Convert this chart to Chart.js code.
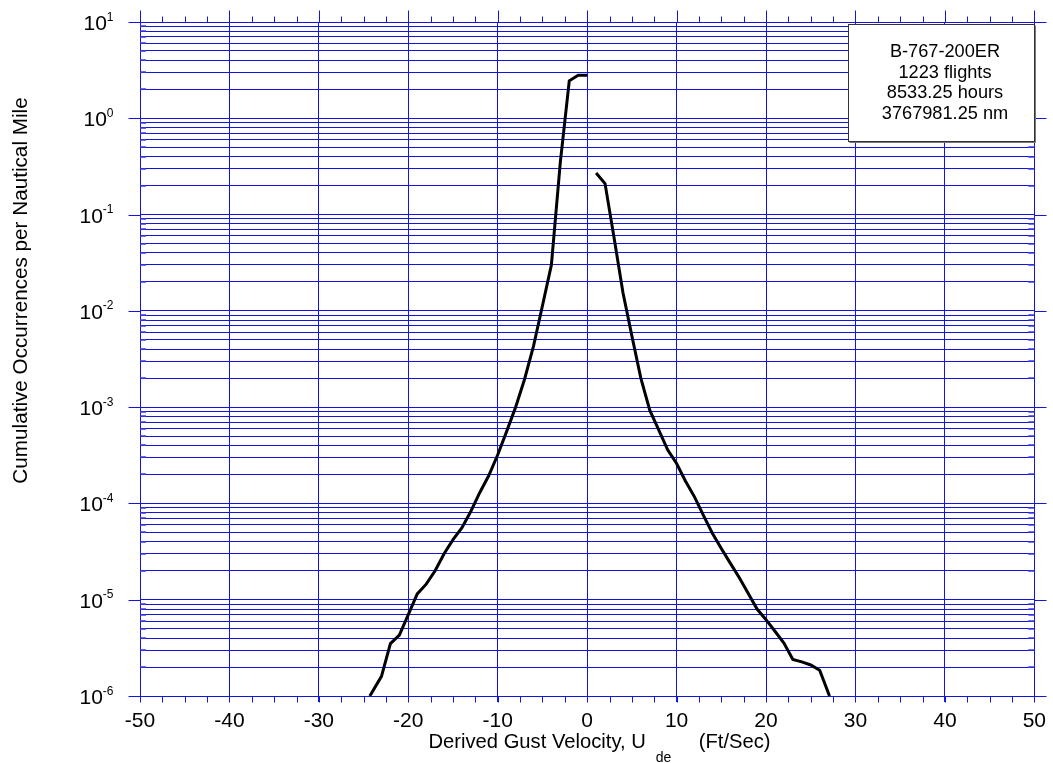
<!DOCTYPE html>
<html><head><meta charset="utf-8">
<script src="https://cdn.jsdelivr.net/npm/chart.js@4.4.1/dist/chart.umd.min.js"></script>
<style>html,body{margin:0;padding:0;background:#fff;overflow:hidden}#wrap{width:1053px;height:763px;position:relative}</style>
</head><body><div id="wrap"><canvas id="c" width="1053" height="763"></canvas></div>
<script>
// ---- data ----
const leftGust = [-24.3,-23,-22,-21,-20,-19,-18,-17,-16,-15,-14,-13,-12,-11,-10,-9,-8,-7,-6,-5,-4,-3,-2,-1,0];
const leftRate = [1.0e-6,1.6e-6,3.5e-6,4.3e-6,7.0e-6,1.15e-5,1.45e-5,2.0e-5,3.0e-5,4.2e-5,5.6e-5,8.3e-5,1.3e-4,1.95e-4,3.2e-4,5.6e-4,1.0e-3,1.95e-3,4.3e-3,1.13e-2,3.0e-2,3.5e-1,2.45,2.8,2.8];
const rightGust = [1,2,3,4,5,6,7,8,9,10,11,12,13,14,15,16,17,18,19,20,21,22,23,24,25,26,27.1];
const rightRate = [0.27,0.21,0.058,0.0155,5.5e-3,2.0e-3,9.3e-4,5.8e-4,3.6e-4,2.6e-4,1.7e-4,1.17e-4,7.5e-5,4.9e-5,3.4e-5,2.4e-5,1.7e-5,1.17e-5,8.0e-6,6.2e-6,4.7e-6,3.55e-6,2.4e-6,2.26e-6,2.1e-6,1.85e-6,1.0e-6];
const xTickValues = [-50,-40,-30,-20,-10,0,10,20,30,40,50];
const xMinorStep = 2.5;
const yDecades = [1e-6,1e-5,1e-4,1e-3,1e-2,1e-1,1e0,1e1];
const yExponents = ['-6','-5','-4','-3','-2','-1','0','1'];
const yMinorMultipliers = [2,3,4,5,6,7,8,9];
const legendLines = ['B-767-200ER','1223 flights','8533.25 hours','3767981.25 nm'];
const xTitleMain = 'Derived Gust Velocity, U';
const xTitleSub = 'de';
const xTitleUnit = '(Ft/Sec)';
const yTitle = 'Cumulative Occurrences per Nautical Mile';

const FONT = '"Liberation Sans", Arial, Helvetica, sans-serif';
const GRID = 'rgb(20,20,225)';

const yGridValues = [];
yDecades.forEach((d, i) => {
  yGridValues.push(d);
  if (i < yDecades.length - 1) yMinorMultipliers.forEach(m => yGridValues.push(d * m));
});

function pts(xs, ys) { return xs.map((x, i) => ({x: x, y: ys[i]})); }

const frame = {
  id: 'frame',
  afterDraw(chart) {
    const ctx = chart.ctx, a = chart.chartArea, xs = chart.scales.x, ys = chart.scales.y;
    const al = v => Math.round(v) + 0.5;
    ctx.save();
    ctx.strokeStyle = GRID; ctx.lineWidth = 1;
    ctx.beginPath();
    ctx.moveTo(al(a.left), al(a.top)); ctx.lineTo(al(a.right), al(a.top));
    ctx.lineTo(al(a.right), al(a.bottom));
    ctx.stroke();
    // x ticks top & bottom
    const xmin = xTickValues[0], xmax = xTickValues[xTickValues.length - 1];
    const nMinor = Math.round((xmax - xmin) / xMinorStep);
    ctx.beginPath();
    for (let k = 0; k <= nMinor; k++) {
      const v = xmin + k * xMinorStep;
      const px = al(xs.getPixelForValue(v));
      const major = xTickValues.includes(v);
      ctx.moveTo(px, al(a.top)); ctx.lineTo(px, al(a.top) - (major ? 12 : 6));
      ctx.moveTo(px, al(a.bottom)); ctx.lineTo(px, al(a.bottom) + 6);
    }
    // y major ticks outward both sides
    yDecades.forEach(d => {
      const py = al(ys.getPixelForValue(d));
      ctx.moveTo(al(a.left) - 12, py); ctx.lineTo(al(a.left), py);
      ctx.moveTo(al(a.right), py); ctx.lineTo(al(a.right) + 12, py);
    });
    ctx.stroke();
    // y minor ticks inward
    ctx.strokeStyle = 'rgba(60,60,230,0.75)'; ctx.lineWidth = 2;
    ctx.beginPath();
    yGridValues.forEach(v => {
      if (yDecades.includes(v)) return;
      const py = Math.round(ys.getPixelForValue(v));
      ctx.moveTo(a.left, py); ctx.lineTo(a.left + 6, py);
      ctx.moveTo(a.right, py); ctx.lineTo(a.right - 6, py);
    });
    ctx.stroke();

    // y tick labels 10^n
    ctx.fillStyle = '#000';
    ctx.textAlign = 'right'; ctx.textBaseline = 'alphabetic';
    yDecades.forEach((d, i) => {
      const py = ys.getPixelForValue(d);
      ctx.font = '12px ' + FONT;
      const ew = ctx.measureText(yExponents[i]).width;
      ctx.fillText(yExponents[i], 113.5, py - 1.5);
      ctx.font = '21px ' + FONT;
      ctx.fillText('10', 113.5 - ew, py + 8);
    });

    // x title
    ctx.textAlign = 'left';
    ctx.font = '20.2px ' + FONT;
    ctx.fillText(xTitleMain, 428.5, 747.7);
    const endMain = 428.5 + ctx.measureText(xTitleMain).width;
    ctx.font = '14px ' + FONT;
    ctx.fillText(xTitleSub, endMain + 10, 762.3);
    ctx.font = '20.2px ' + FONT;
    ctx.fillText(xTitleUnit, endMain + 53, 747.7);

    // y title
    ctx.save();
    ctx.translate(26.5, 290.5);
    ctx.rotate(-Math.PI / 2);
    ctx.textAlign = 'center';
    ctx.font = '20.7px ' + FONT;
    ctx.fillText(yTitle, 0, 0);
    ctx.restore();

    // legend box
    const bx = 848.5, by = 24.5, bw = Math.round(a.right) - 848, bh = 117;
    ctx.fillStyle = '#fff';
    ctx.fillRect(bx, by, bw, bh);
    ctx.strokeStyle = '#333'; ctx.lineWidth = 1;
    ctx.strokeRect(bx, by, bw, bh);
    ctx.beginPath();
    ctx.moveTo(bx + 1, by + bh + 1); ctx.lineTo(bx + bw + 1, by + bh + 1); ctx.lineTo(bx + bw + 1, by + 1);
    ctx.strokeStyle = '#777'; ctx.stroke();
    ctx.fillStyle = '#000';
    ctx.textAlign = 'center';
    ctx.font = '18.2px ' + FONT;
    legendLines.forEach((t, i) => ctx.fillText(t, 945, 56.7 + i * 20.8));
    ctx.restore();
  }
};

new Chart(document.getElementById('c'), {
  type: 'line',
  data: {
    datasets: [
      {data: pts(leftGust, leftRate), borderColor: '#000', borderWidth: 3, pointRadius: 0, tension: 0, fill: false},
      {data: pts(rightGust, rightRate), borderColor: '#000', borderWidth: 3, pointRadius: 0, tension: 0, fill: false}
    ]
  },
  options: {
    responsive: false,
    animation: false,
    devicePixelRatio: 1,
    layout: {padding: {left: 128, right: 16, top: 22, bottom: 0}},
    plugins: {legend: {display: false}, tooltip: {enabled: false}, title: {display: false}},
    scales: {
      x: {
        type: 'linear', min: -50, max: 50,
        afterBuildTicks: s => { s.ticks = xTickValues.map(v => ({value: v})); },
        afterFit: s => { s.height = 67; },
        ticks: {color: '#000', font: {family: FONT, size: 21}, padding: 7, maxRotation: 0, autoSkip: false,
                callback: v => String(v)},
        grid: {color: GRID, lineWidth: 1, drawTicks: true, tickLength: 6, tickColor: GRID},
        border: {display: true, color: GRID, width: 1}
      },
      y: {
        type: 'logarithmic', min: 1e-6, max: 10,
        afterBuildTicks: s => { s.ticks = yGridValues.map(v => ({value: v})); },
        afterFit: s => { s.width = 12; },
        ticks: {display: false},
        grid: {color: GRID, lineWidth: 1, drawTicks: false},
        border: {display: true, color: GRID, width: 1}
      }
    }
  },
  plugins: [frame]
});
</script></body></html>
